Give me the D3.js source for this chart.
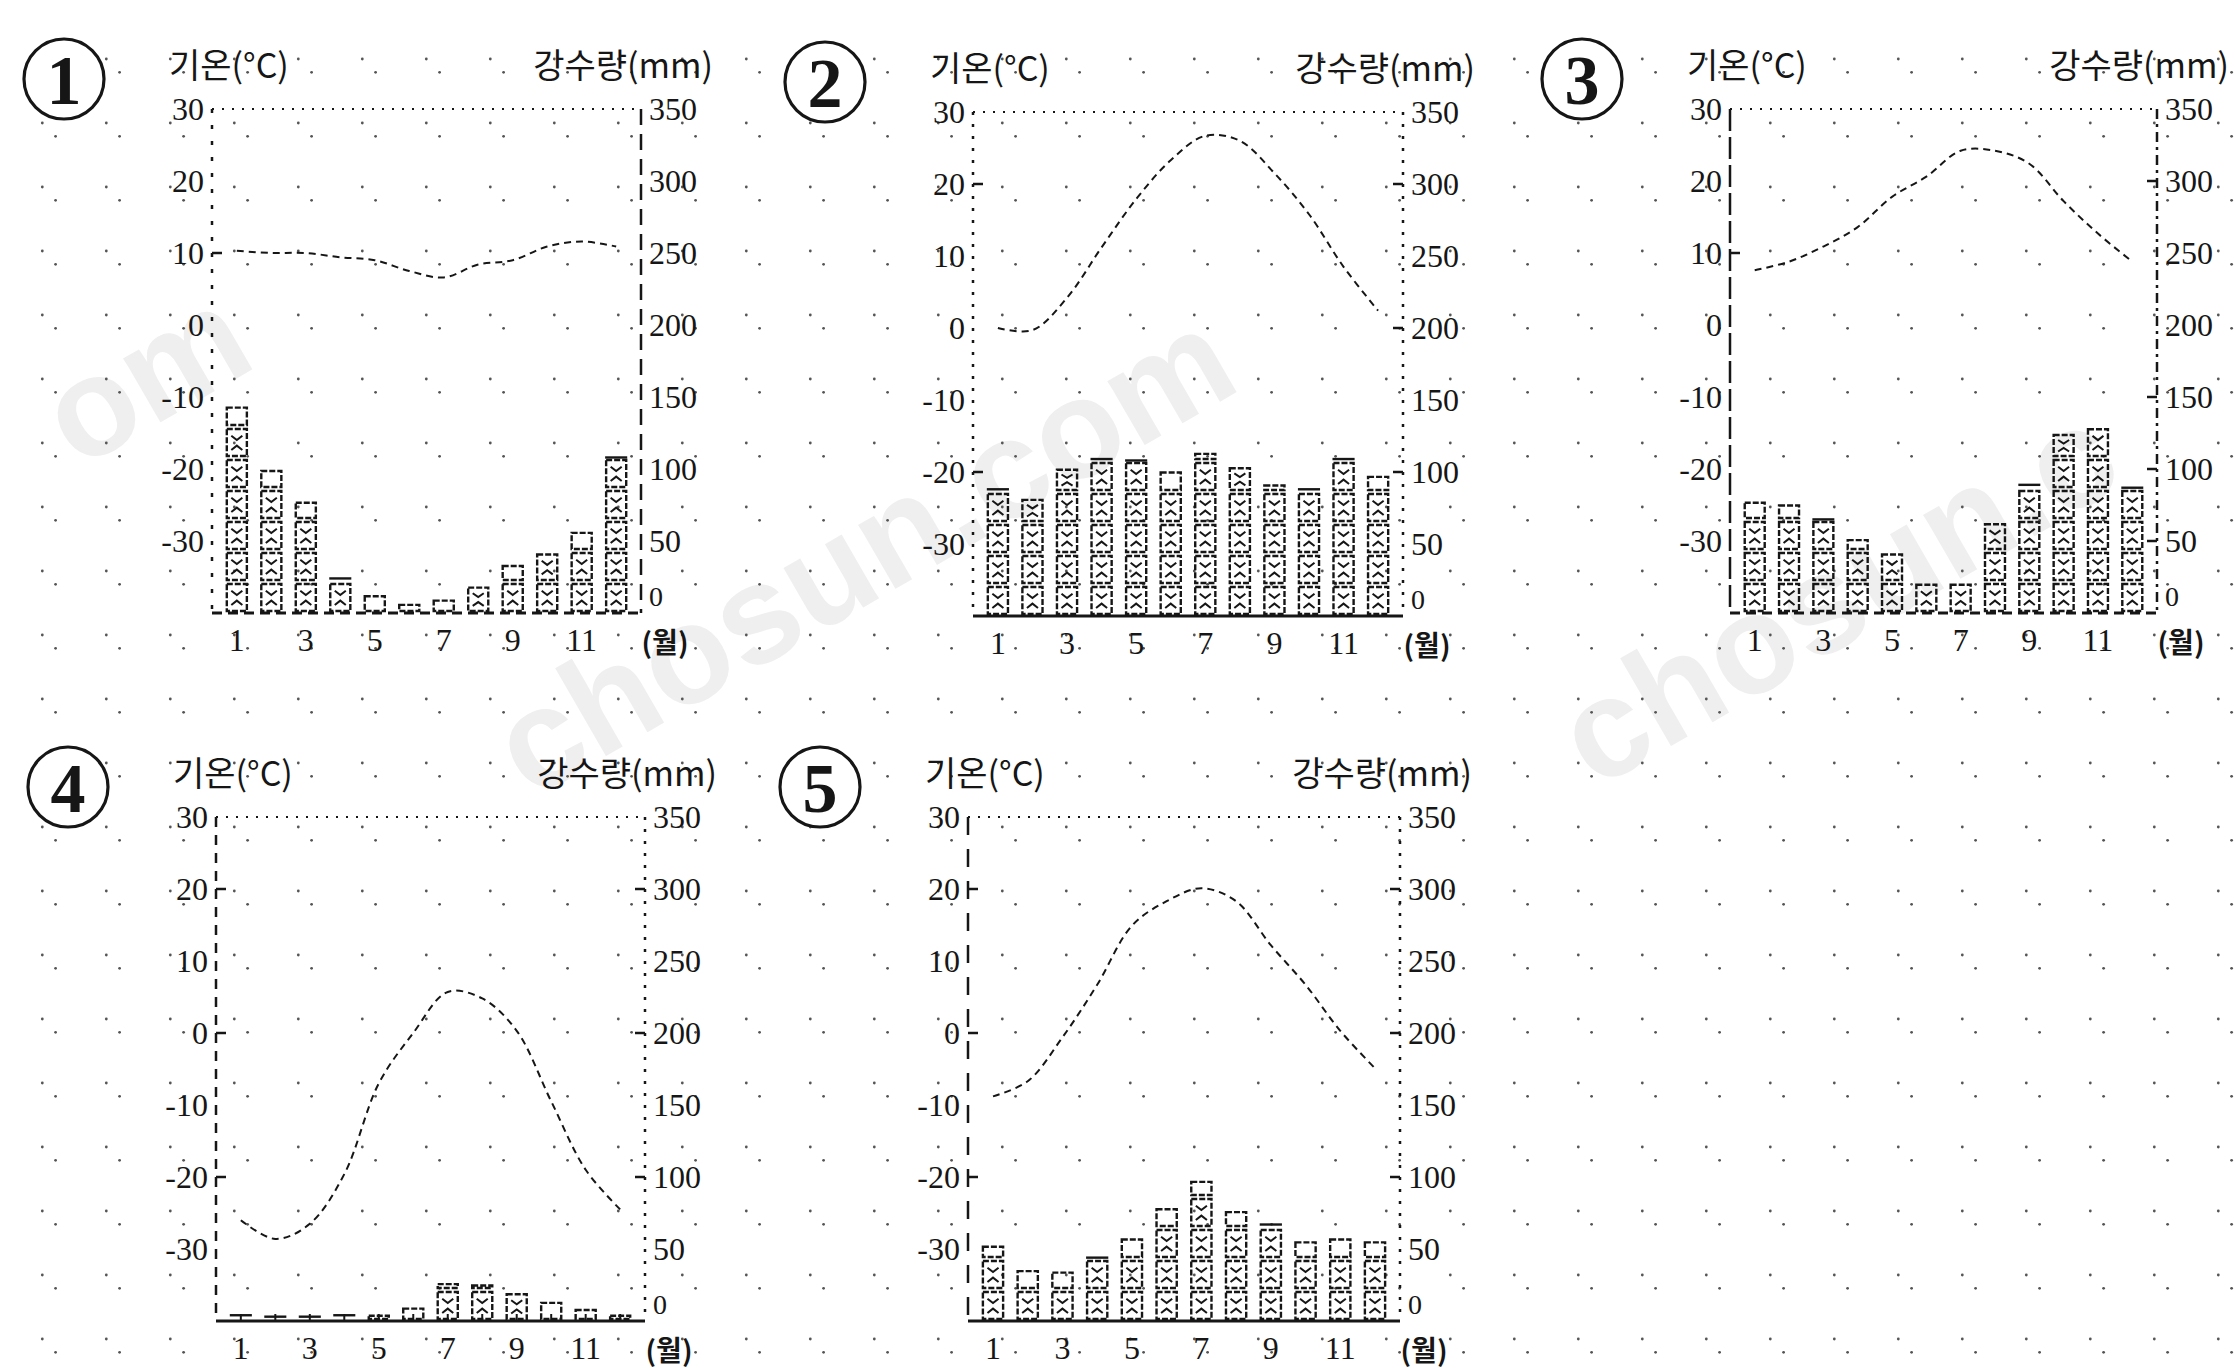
<!DOCTYPE html>
<html><head><meta charset="utf-8">
<script src="https://cdn.jsdelivr.net/npm/d3@7/dist/d3.min.js"></script>
<style>html,body{margin:0;padding:0;background:#fff;overflow:hidden} svg{display:block}</style>
</head><body><svg id="c" width="2235" height="1368"></svg>
<script>
// ---------- data ----------
const months = [1,2,3,4,5,6,7,8,9,10,11,12];
const monthTickLabels = [1,3,5,7,9,11];
const tempTicks = [30,20,10,0,-10,-20,-30];
const precipTicks = [350,300,250,200,150,100,50,0];
const panelNumbers = ["1","2","3","4","5"];
const tempTitle = "기온(°C)";
const precipTitle = "강수량(mm)";
const monthUnit = "(월)";
const watermarkTexts = ["om", "chosun.com", "chosun.c"];

const temp1 = [10.3, 10, 10, 9.4, 9, 7.5, 6.6, 8.4, 9, 10.9, 11.6, 10.9];
const precip1 = [144, 100, 78, 24, 13, 7, 10, 19, 34, 42, 57, 108];
const temp2 = [0, -0.3, 4.2, 11.2, 17.9, 23.3, 26.7, 26, 21.5, 15.8, 8.5, 2.4];
const precip2 = [88, 82, 103, 109, 108, 101, 114, 104, 92, 88, 109, 98];
const temp3 = [7.6, 8.8, 10.9, 13.6, 17.8, 20.6, 24.2, 24.2, 22.4, 17.2, 12.7, 8.8];
const precip3 = [78, 76, 65, 52, 42, 21, 21, 63, 89, 125, 129, 87];
const temp4 = [-26, -28.6, -26.5, -19.6, -7, 0, 5.7, 4.8, 0.3, -9.5, -19, -24.5];
const precip4 = [4, 3, 3, 4, 5, 10, 27, 26, 20, 14, 9, 5];
const temp5 = [-8.8, -6.7, -0.6, 6.7, 14.9, 18.3, 20.1, 18.3, 12.2, 6.7, 0.3, -4.9];
const precip5 = [53, 36, 35, 44, 58, 79, 98, 77, 67, 56, 58, 56];

const temps = [temp1, temp2, temp3, temp4, temp5];
const precips = [precip1, precip2, precip3, precip4, precip5];

// ---------- layout / style ----------
const W = 2235, H = 1368;
const layouts = [
  {left:212, top:109, right:641, bottom:613, axL:"4,12", axR:"16,9", axB:"10,6", ticksL:[10], ticksR:[]},
  {left:973, top:112, right:1403, bottom:616, axL:"3,9", axR:"3,9", axB:null, ticksL:[20,-20], ticksR:[300,200,100]},
  {left:1730, top:109, right:2157, bottom:613, axL:"22,6", axR:"10,5,3,5", axB:"10,6", ticksL:[10], ticksR:[300,150,100,50]},
  {left:216, top:817, right:645, bottom:1321, axL:"10,8", axR:"3,9", axB:null, ticksL:[20,0,-20], ticksR:[300,200,100], monthTicks:true},
  {left:968, top:817, right:1400, bottom:1321, axL:"18,14", axR:"3,9", axB:null, ticksL:[20,0,-20], ticksR:[300,200,100]}
];
const watermarkPos = [[78, 470], [530, 800], [1595, 790]];
const INK = "#161616";
const numFont = "'Liberation Serif', 'DejaVu Serif', serif";
const krFont = "'Noto Sans CJK KR', 'Noto Sans', sans-serif";

const svg = d3.select("#c");
svg.append("rect").attr("width", W).attr("height", H).attr("fill", "#fff");

// watermarks
watermarkPos.forEach(([x, y], k) => {
  svg.append("text")
    .attr("transform", `translate(${x},${y}) rotate(-30)`)
    .attr("font-family", "'Liberation Sans', Arial, sans-serif")
    .attr("font-weight", "bold").attr("font-size", 140)
    .attr("fill", "#efefef").text(watermarkTexts[k]);
});

// dotted background grid (decoration)
const gDots = svg.append("g").attr("fill", "#555");
[[42.3, 59], [55.6, 72.3]].forEach(([ox, oy]) => {
  d3.range(ox, W, 64).forEach(x => {
    d3.range(oy, H, 64).forEach(y => {
      gDots.append("circle").attr("cx", x).attr("cy", y).attr("r", 1.4);
    });
  });
});

// ---------- panels ----------
const CELL = 31;
layouts.forEach((L, i) => {
  const g = svg.append("g");
  const x = d3.scaleBand().domain(months).range([L.left, L.right]).paddingInner(0.36).paddingOuter(0.4);
  const yT = d3.scaleLinear().domain([-40, 30]).range([L.bottom, L.top]);
  const yP = d3.scaleLinear().domain([0, 350]).range([L.bottom, L.top]);
  const bw = x.bandwidth();

  // circled number
  g.append("circle").attr("cx", L.left - 148).attr("cy", L.top - 30).attr("r", 40)
    .attr("fill", "#fff").attr("stroke", INK).attr("stroke-width", 3.2);
  g.append("text").attr("x", L.left - 148).attr("y", L.top - 30).attr("dy", "0.35em")
    .attr("text-anchor", "middle").attr("font-family", numFont).attr("font-weight", "bold")
    .attr("font-size", 70).attr("fill", INK).text(panelNumbers[i]);

  // titles
  g.append("text").attr("x", L.left - 43).attr("y", L.top - 31)
    .attr("font-family", krFont).attr("font-size", 34).attr("fill", INK).text(tempTitle);
  g.append("text").attr("x", L.right + 72).attr("y", L.top - 31).attr("text-anchor", "end")
    .attr("font-family", krFont).attr("font-size", 34).attr("fill", INK).text(precipTitle);

  // frame lines
  g.append("line").attr("x1", L.left).attr("x2", L.right).attr("y1", L.top).attr("y2", L.top)
    .attr("stroke", INK).attr("stroke-width", 2).attr("stroke-dasharray", "2,8");
  g.append("line").attr("x1", L.left).attr("x2", L.left).attr("y1", L.top).attr("y2", L.bottom)
    .attr("stroke", INK).attr("stroke-width", 2.5).attr("stroke-dasharray", L.axL);
  g.append("line").attr("x1", L.right).attr("x2", L.right).attr("y1", L.top).attr("y2", L.bottom)
    .attr("stroke", INK).attr("stroke-width", 2.5).attr("stroke-dasharray", L.axR);
  g.append("line").attr("x1", L.left).attr("x2", L.right).attr("y1", L.bottom).attr("y2", L.bottom)
    .attr("stroke", INK).attr("stroke-width", 3).attr("stroke-dasharray", L.axB);

  // ticks
  L.ticksL.forEach(v => g.append("line").attr("x1", L.left).attr("x2", L.left + 10)
    .attr("y1", yT(v)).attr("y2", yT(v)).attr("stroke", INK).attr("stroke-width", 2.5));
  L.ticksR.forEach(v => g.append("line").attr("x1", L.right - 10).attr("x2", L.right)
    .attr("y1", yP(v)).attr("y2", yP(v)).attr("stroke", INK).attr("stroke-width", 2.5));
  if (L.monthTicks) months.forEach(m => g.append("line")
    .attr("x1", x(m) + bw / 2).attr("x2", x(m) + bw / 2)
    .attr("y1", L.bottom).attr("y2", L.bottom - 7).attr("stroke", INK).attr("stroke-width", 2));

  // tick labels
  g.selectAll(".tl").data(tempTicks).join("text")
    .attr("x", L.left - 8).attr("y", d => yT(d)).attr("dy", "0.35em").attr("text-anchor", "end")
    .attr("font-family", numFont).attr("font-size", 32).attr("fill", INK).text(d => d);
  g.selectAll(".tr").data(precipTicks).join("text")
    .attr("x", L.right + 8).attr("y", d => d === 0 ? yP(d) - 17 : yP(d)).attr("dy", "0.35em")
    .attr("font-family", numFont).attr("font-size", d => d === 0 ? 28 : 32).attr("fill", INK).text(d => d);
  g.selectAll(".tm").data(monthTickLabels).join("text")
    .attr("x", d => x(d) + bw / 2).attr("y", L.bottom + 27).attr("dy", "0.35em").attr("text-anchor", "middle")
    .attr("font-family", numFont).attr("font-size", 32).attr("fill", INK).text(d => d);
  g.append("text").attr("x", L.right + 24).attr("y", L.bottom + 30).attr("dy", "0.35em")
    .attr("text-anchor", "middle").attr("font-family", krFont).attr("font-weight", "bold")
    .attr("font-size", 28).attr("fill", INK).text(monthUnit);

  // precipitation bars drawn as stacked cells
  const pr = precips[i];
  months.forEach((m, j) => {
    const top = yP(pr[j]);
    const x0 = x(m);
    const gb = g.append("g").attr("fill", "none").attr("stroke", INK).attr("stroke-width", 2.4);
    let cb = L.bottom;
    while (cb > top + 0.5) {
      const ct = Math.max(cb - CELL, top);
      const h = cb - ct;
      if (h > 6) {
        gb.append("rect").attr("x", x0 + 1).attr("y", ct + 2).attr("width", bw - 2).attr("height", h - 4)
          .attr("stroke-dasharray", "6,2");
        if (h > CELL * 0.7) {
          gb.append("path").attr("stroke-width", 2).attr("d",
            `M${x0 + bw * 0.25},${ct + h * 0.28} L${x0 + bw * 0.5},${ct + h * 0.42} L${x0 + bw * 0.75},${ct + h * 0.28}` +
            `M${x0 + bw * 0.25},${ct + h * 0.74} L${x0 + bw * 0.5},${ct + h * 0.6} L${x0 + bw * 0.75},${ct + h * 0.74}`);
        }
      } else {
        gb.append("line").attr("x1", x0).attr("x2", x0 + bw).attr("y1", ct).attr("y2", ct);
      }
      cb = ct;
    }
  });

  // temperature line
  const line = d3.line().x((d, j) => x(months[j]) + bw / 2).y(d => yT(d)).curve(d3.curveCatmullRom.alpha(0.5));
  g.append("path").attr("d", line(temps[i])).attr("fill", "none").attr("stroke", INK)
    .attr("stroke-width", 2).attr("stroke-dasharray", "7,5");
});
</script></body></html>
